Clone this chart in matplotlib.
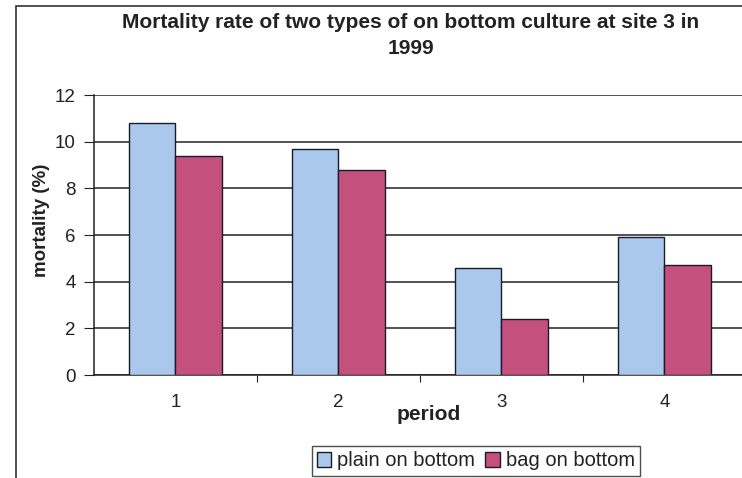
import matplotlib
matplotlib.use('Agg')
import matplotlib.pyplot as plt
from matplotlib.patches import Rectangle

plt.rcParams['font.family'] = ['Liberation Sans', 'DejaVu Sans']

# data
periods = ['1', '2', '3', '4']
plain = [10.8, 9.7, 4.6, 5.9]
bag = [9.4, 8.8, 2.4, 4.7]
labels = ['plain on bottom', 'bag on bottom']

blue = '#a9c8ec'
pink = '#c4507e'

fig = plt.figure(figsize=(7.42, 4.78), dpi=100)
ax = fig.add_axes([94/742, 1-375/478, 652/742, 280/478])

x = range(1, len(periods) + 1)
w = 0.285
b1 = ax.bar([i - w/2 for i in x], plain, w, color=blue, edgecolor='#1a1a2a', linewidth=1.0, zorder=3)
b2 = ax.bar([i + w/2 for i in x], bag, w, color=pink, edgecolor='#1a1a2a', linewidth=1.0, zorder=3)

ax.set_xlim(0.5, 4.5)
ax.set_ylim(0, 12)
ax.set_yticks(range(0, 13, 2))
ax.yaxis.grid(True, color='#222222', linewidth=1.1, zorder=0)
ax.set_axisbelow(True)

ax.set_xticks([1.5, 2.5, 3.5])
ax.set_xticklabels([])
ax.set_xticks(list(x), minor=True)
ax.set_xticklabels(periods, minor=True)
ax.tick_params(axis='x', which='major', length=5, direction='out', color='#222222')
ax.tick_params(axis='x', which='minor', length=0, pad=14, labelsize=13.5, labelcolor='#222222')
ax.tick_params(axis='y', length=7, direction='out', labelsize=13.5, pad=6, color='#222222',
               labelcolor='#222222')

for s in ['top', 'right']:
    ax.spines[s].set_visible(False)
for s in ['left', 'bottom']:
    ax.spines[s].set_color('#222222')
    ax.spines[s].set_linewidth(1.1)

fig.text(42/742, 1-220/478, 'mortality (%)', fontsize=13.5, fontweight='bold', rotation=90,
         ha='center', va='center', color='#222222')
fig.text(429/742, 1-414/478, 'period', fontsize=15, fontweight='bold', ha='center', va='center',
         color='#222222')

fig.text(411/742, 1-23/478, 'Mortality rate of two types of on bottom culture at site 3 in',
         fontsize=15, fontweight='bold', ha='center', va='center', color='#222222')
fig.text(411/742, 1-48/478, '1999', fontsize=15, fontweight='bold', ha='center', va='center',
         color='#222222')

# outer chart border (cut off at right and bottom)
fig.patches.append(Rectangle((16/742, -0.1), 1.1, 1.1 - 6/478, transform=fig.transFigure,
                             fill=False, edgecolor='#333333', linewidth=1.2))

leg = fig.legend([b1, b2], labels, loc='center', bbox_to_anchor=(476/742, 1-461/478), ncol=2,
                 fontsize=14.5, frameon=True, fancybox=False, edgecolor='#222222',
                 handlelength=0.7, handleheight=0.7, handletextpad=0.3, columnspacing=0.5,
                 borderpad=0.25)
leg.get_frame().set_linewidth(1.0)
for t in leg.get_texts():
    t.set_color('#222222')

fig.savefig('out.png', dpi=100)
